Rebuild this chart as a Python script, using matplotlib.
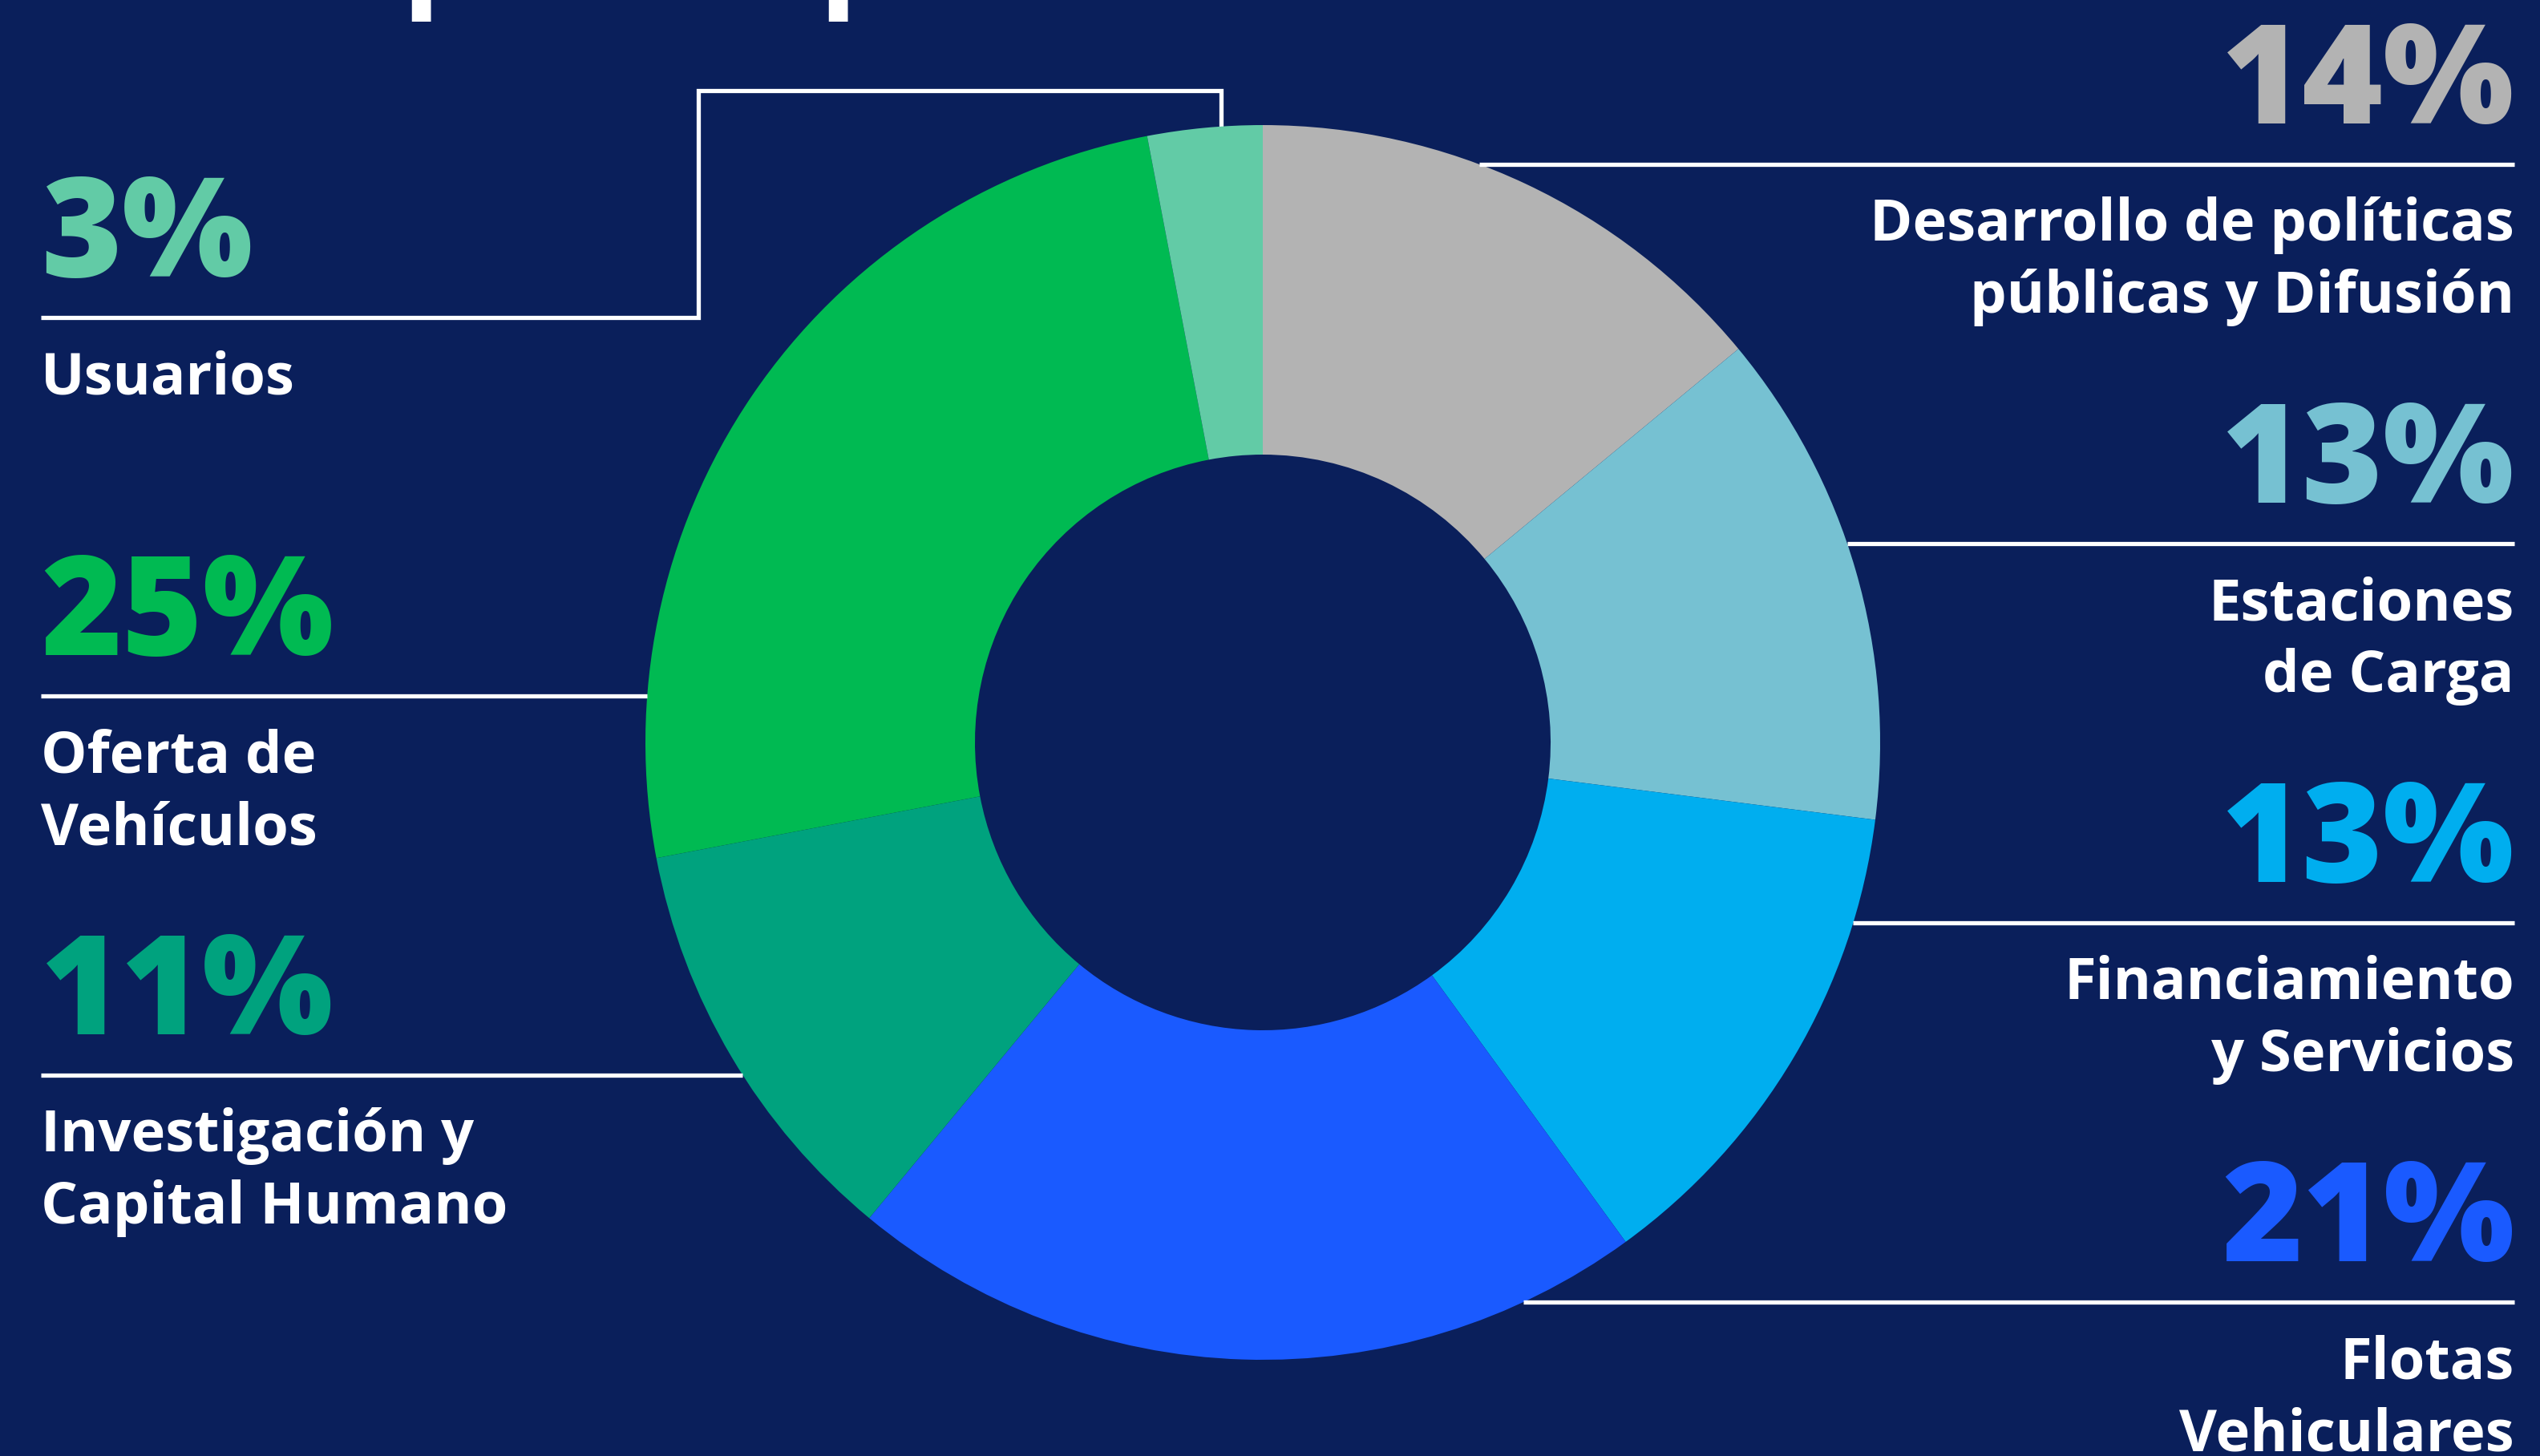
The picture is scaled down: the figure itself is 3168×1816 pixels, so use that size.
"""Donut chart: distribución porcentual por componente."""

import numpy as np
import matplotlib

matplotlib.use("Agg")
import matplotlib.pyplot as plt

# --- data -------------------------------------------------------------
categories = [
    "Desarrollo de políticas\npúblicas y Difusión",
    "Estaciones\nde Carga",
    "Financiamiento\ny Servicios",
    "Flotas\nVehiculares",
    "Investigación y\nCapital Humano",
    "Oferta de\nVehículos",
    "Usuarios",
]
shares = [14, 13, 13, 21, 11, 25, 3]
colors = ["#B3B3B3", "#76C1D2", "#00AEEF", "#1A5AFF", "#00A27E", "#00BA52", "#62CBA6"]
# label slot: right column top-down, left column top-down
slots = [("right", 0), ("right", 1), ("right", 2), ("right", 3),
         ("left", 2), ("left", 1), ("left", 0)]

BG = "#0A1F5B"
W, H = 3168, 1816

plt.rcParams["font.family"] = ["Open Sans", "DejaVu Sans"]

fig = plt.figure(figsize=(W / 100, H / 100), dpi=100, facecolor=BG)
ax = fig.add_axes([0, 0, 1, 1])
ax.set_facecolor(BG)


def fy(y):
    """Convert a top-down pixel row into the axis' y coordinate."""
    return H - y


# --- donut ------------------------------------------------------------
cx, cy, R, r_in = 1575, fy(926), 770, 359
ax.pie(
    shares,
    colors=colors,
    startangle=90,
    counterclock=False,
    radius=R,
    center=(cx, cy),
    wedgeprops=dict(width=R - r_in, linewidth=0),
    frame=True,
)
ax.set_xlim(0, W)
ax.set_ylim(0, H)
ax.set_aspect("equal")
ax.axis("off")

# --- labels and leader lines -----------------------------------------
LW = 3.8
pct_size = 124
lab_size = 52
rows = {"right": [205, 678, 1151, 1624], "left": [396, 868, 1341]}

for cat, val, col, (s, k) in zip(categories, shares, colors, slots):
    row = rows[s][k]
    if s == "right":
        x_txt, ha = 3136, "right"
        x_edge = cx + np.sqrt(R**2 - (cy - fy(row)) ** 2)
        ax.plot([x_edge, x_txt], [fy(row)] * 2, color="white", lw=LW,
                solid_capstyle="butt", zorder=1)
    else:
        x_txt, ha = 51, "left"
        if cat == "Usuarios":
            # bracket going over the top of the donut
            xb = 1523
            y_top = cy + np.sqrt(R**2 - (xb - cx) ** 2)
            xs = [x_txt, 871, 871, xb, xb]
            ys = [fy(row), fy(row), fy(113), fy(113), y_top - 2]
            ax.plot(xs, ys, color="white", lw=LW,
                    solid_joinstyle="miter", solid_capstyle="butt", zorder=0)
        else:
            x_edge = cx - np.sqrt(R**2 - (cy - fy(row)) ** 2)
            ax.plot([x_txt, x_edge], [fy(row)] * 2, color="white", lw=LW,
                    solid_capstyle="butt", zorder=1)

    ax.text(x_txt, fy(row - 51), f"{val}%", color=col, fontsize=pct_size,
            fontweight="heavy", ha=ha, va="baseline")
    for i, line in enumerate(cat.split("\n")):
        ax.text(x_txt, fy(row + 95 + 90 * i), line, color="white",
                fontsize=lab_size, fontweight="bold", ha=ha, va="baseline")

# cut-off title above the frame: only descenders remain visible
for x in (500, 1020):
    ax.text(x, fy(-12), "p", color="white", fontsize=118, fontweight="bold",
            ha="left", va="baseline")

fig.savefig("out.png", dpi=100, facecolor=BG)
